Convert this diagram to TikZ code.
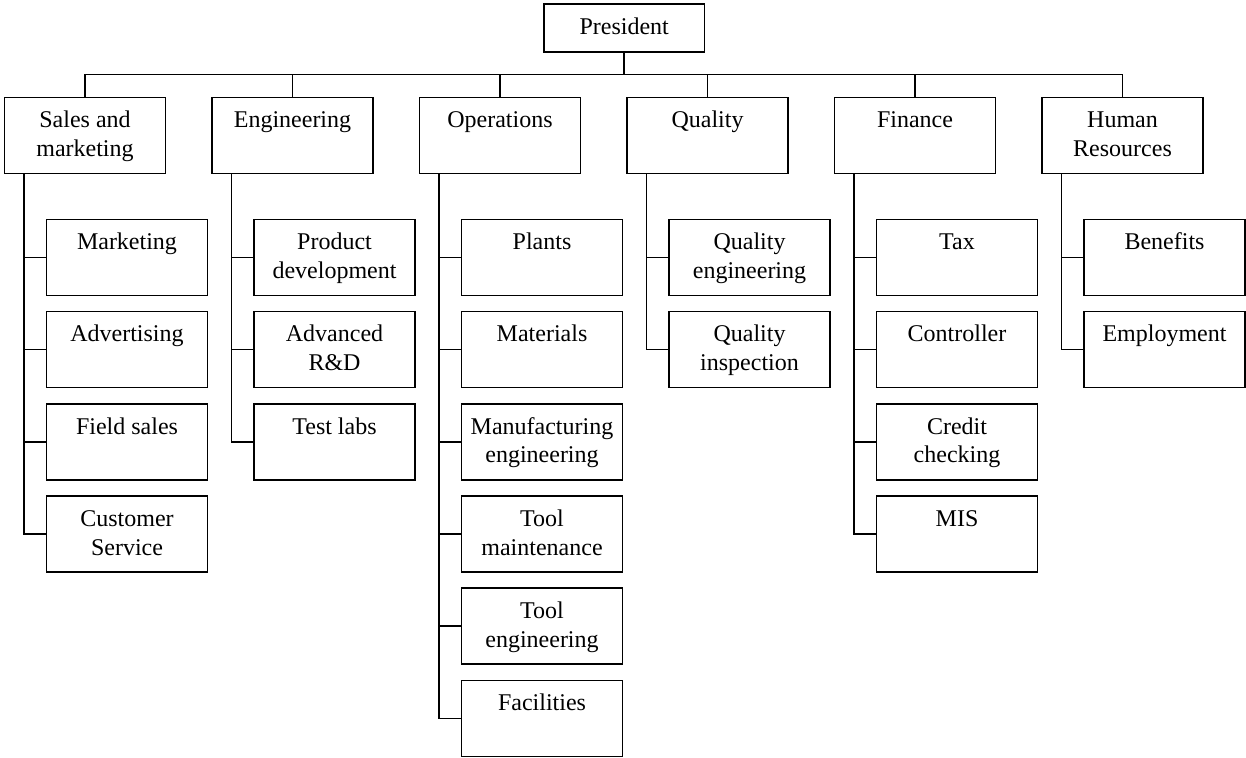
\documentclass[tikz,border=0pt]{standalone}
\usepackage{fontspec}
\setmainfont{Liberation Serif}

%% 方框內文字靠上排列
\newcommand{\cellbox}[2][38pt]{\parbox[c][#1][t]{80.35pt}{\centering\rule{0pt}{15.2pt}#2}}

\begin{document}
\begin{tikzpicture}[x=0.5pt, y=-0.5pt,
                    every node/.style={font=\fontsize{12}{14.35}\selectfont},
                    unit/.style={draw, line width=0.8pt, inner sep=0pt},
                    link/.style={line width=0.8pt}]

\useasboundingbox (0,0) rectangle (1246,757);

%% ==== 最上層 ====================================================
\node[unit] (pres) at (624.2,27.85) {\cellbox[23.85pt]{President}};
\coordinate (bar) at (624.2,74.3);

%% ==== 各部門 ====================================================
\node[unit] (sales) at (85,135.5)    {\cellbox{Sales and\\marketing}};
\node[unit] (eng)   at (292.5,135.5) {\cellbox{Engineering}};
\node[unit] (ops)   at (500,135.5)   {\cellbox{Operations}};
\node[unit] (qual)  at (707.5,135.5) {\cellbox{Quality}};
\node[unit] (fin)   at (915,135.5)   {\cellbox{Finance}};
\node[unit] (hr)    at (1122.5,135.5){\cellbox{Human\\Resources}};

%% 部門連到總裁
\draw[link] (pres.south) -- (bar);
\draw[link] (sales.north) |- (bar) -| (hr.north);
\draw[link] (eng.north)  -- (eng.north |- bar);
\draw[link] (ops.north)  -- (ops.north |- bar);
\draw[link] (qual.north) -- (qual.north |- bar);
\draw[link] (fin.north)  -- (fin.north |- bar);

%% ==== Sales and marketing ======================================
\node[unit] (mkt)  at (127,257.3) {\cellbox{Marketing}};
\node[unit] (adv)  at (127,349.5) {\cellbox{Advertising}};
\node[unit] (fld)  at (127,441.7) {\cellbox{Field sales}};
\node[unit] (cust) at (127,533.9) {\cellbox{Customer\\Service}};

%% ==== Engineering ==============================================
\node[unit] (prod) at (334.5,257.3) {\cellbox{Product\\development}};
\node[unit] (rnd)  at (334.5,349.5) {\cellbox{Advanced\\R\&D}};
\node[unit] (test) at (334.5,441.7) {\cellbox{Test labs}};

%% ==== Operations ===============================================
\node[unit] (plant) at (542,257.3) {\cellbox{Plants}};
\node[unit] (mat)   at (542,349.5) {\cellbox{Materials}};
\node[unit] (manu)  at (542,441.7) {\cellbox{Manufacturing\\engineering}};
\node[unit] (tmnt)  at (542,533.9) {\cellbox{Tool\\maintenance}};
\node[unit] (teng)  at (542,626.1) {\cellbox{Tool\\engineering}};
\node[unit] (fac)   at (542,718.3) {\cellbox{Facilities}};

%% ==== Quality ==================================================
\node[unit] (qeng) at (749.5,257.3) {\cellbox{Quality\\engineering}};
\node[unit] (qins) at (749.5,349.5) {\cellbox{Quality\\inspection}};

%% ==== Finance ==================================================
\node[unit] (tax)  at (957,257.3) {\cellbox{Tax}};
\node[unit] (ctrl) at (957,349.5) {\cellbox{Controller}};
\node[unit] (cred) at (957,441.7) {\cellbox{Credit\\checking}};
\node[unit] (mis)  at (957,533.9) {\cellbox{MIS}};

%% ==== Human Resources ==========================================
\node[unit] (ben) at (1164.5,257.3) {\cellbox{Benefits}};
\node[unit] (emp) at (1164.5,349.5) {\cellbox{Employment}};

%% ==== 部門下方的主幹與分支 =====================================
\coordinate (salestrunk) at ([xshift=-30.5pt]sales.south);
\coordinate (engtrunk)   at ([xshift=-30.5pt]eng.south);
\coordinate (opstrunk)   at ([xshift=-30.5pt]ops.south);
\coordinate (qualtrunk)  at ([xshift=-30.5pt]qual.south);
\coordinate (fintrunk)   at ([xshift=-30.5pt]fin.south);
\coordinate (hrtrunk)    at ([xshift=-30.5pt]hr.south);

\draw[link] (salestrunk) |- (cust.west);
\foreach \u in {mkt, adv, fld}
  \draw[link] (\u.west) -- (\u.west -| salestrunk);

\draw[link] (engtrunk) |- (test.west);
\foreach \u in {prod, rnd}
  \draw[link] (\u.west) -- (\u.west -| engtrunk);

\draw[link] (opstrunk) |- (fac.west);
\foreach \u in {plant, mat, manu, tmnt, teng}
  \draw[link] (\u.west) -- (\u.west -| opstrunk);

\draw[link] (qualtrunk) |- (qins.west);
\draw[link] (qeng.west) -- (qeng.west -| qualtrunk);

\draw[link] (fintrunk) |- (mis.west);
\foreach \u in {tax, ctrl, cred}
  \draw[link] (\u.west) -- (\u.west -| fintrunk);

\draw[link] (hrtrunk) |- (emp.west);
\draw[link] (ben.west) -- (ben.west -| hrtrunk);

\end{tikzpicture}
\end{document}
